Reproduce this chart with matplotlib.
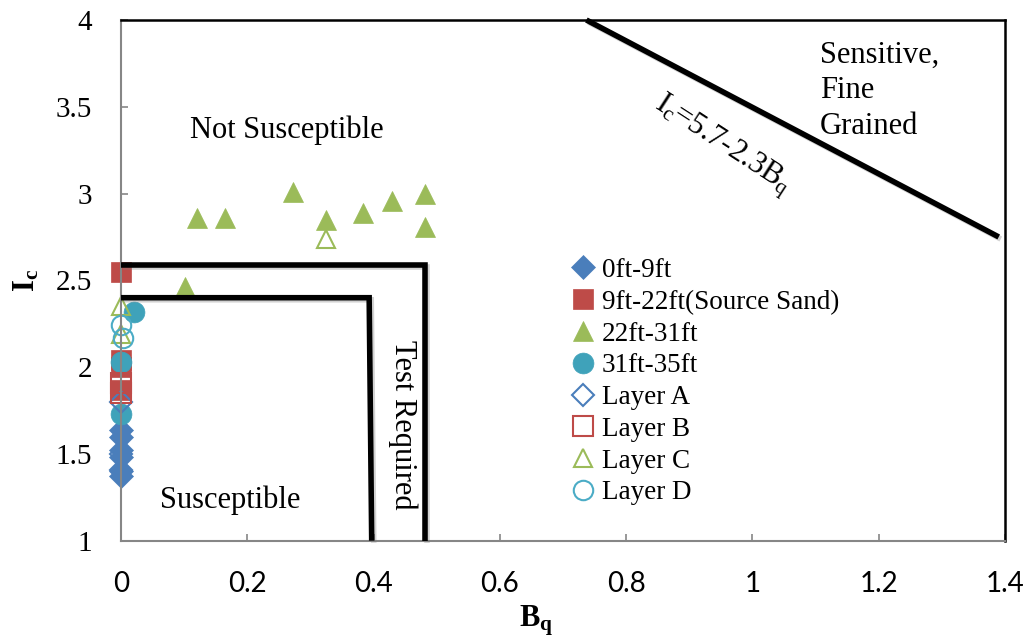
import matplotlib
matplotlib.use("Agg")
import matplotlib.pyplot as plt
import matplotlib.patheffects as pe

# ---- data ----
d0_9_x = [0, 0, 0, 0, 0, 0]
d0_9_y = [1.64, 1.60, 1.52, 1.48, 1.40, 1.37]

d9_22_x = [0, 0, 0, 0]
d9_22_y = [2.55, 2.04, 2.00, 1.87]

d22_31_x = [0.101, 0.121, 0.165, 0.273, 0.324, 0.384, 0.429, 0.482, 0.482]
d22_31_y = [2.46, 2.86, 2.86, 3.01, 2.85, 2.89, 2.96, 3.00, 2.81]

d31_35_x = [0.02, 0, 0]
d31_35_y = [2.32, 2.03, 1.73]

layerA_x = [0, 0, 0]
layerA_y = [1.80, 1.50, 1.41]

layerB_x = [0, 0]
layerB_y = [1.91, 1.85]

layerC_x = [0, 0, 0.324]
layerC_y = [2.35, 2.19, 2.74]

layerD_x = [0, 0.003]
layerD_y = [2.24, 2.17]

labels = ["0ft-9ft", "9ft-22ft(Source Sand)", "22ft-31ft", "31ft-35ft",
          "Layer A", "Layer B", "Layer C", "Layer D"]

xticks = [0, 0.2, 0.4, 0.6, 0.8, 1.0, 1.2, 1.4]
xticklabels = ["0", "0.2", "0.4", "0.6", "0.8", "1", "1.2", "1.4"]
yticks = [1, 1.5, 2, 2.5, 3, 3.5, 4]
yticklabels = ["1", "1.5", "2", "2.5", "3", "3.5", "4"]

# boundary lines of the classification chart
outer_x = [0, 0.482, 0.482]
outer_y = [2.59, 2.59, 1.0]
inner_x = [0, 0.393, 0.397]
inner_y = [2.40, 2.40, 1.0]
diag_x = [0.737, 1.39]
diag_y = [4.0, 2.75]

BLUE = "#4A7EBB"
RED = "#BE4B48"
GREEN = "#9BBB59"
TEAL = "#3FA2BA"
TEAL_L = "#4BACC6"

SERIF = "Liberation Serif"
SANS = "Lato"

plt.rcParams["mathtext.fontset"] = "custom"
plt.rcParams["mathtext.rm"] = SERIF
plt.rcParams["mathtext.it"] = SERIF + ":italic"
plt.rcParams["mathtext.bf"] = SERIF + ":bold"

fig = plt.figure(figsize=(10.29, 6.37), dpi=100)
ax = fig.add_axes([0.1176, 0.1512, 0.8591, 0.8174])

mk = dict(ls="none", clip_on=False)
ax.plot(d0_9_x, d0_9_y, marker="D", ms=12, color=BLUE,
        mec=BLUE, mew=0.5, label=labels[0], **mk)
ax.plot(d9_22_x, d9_22_y, marker="s", ms=14.5, color=RED,
        mec=RED, mew=0.5, label=labels[1], **mk)
ax.plot(d22_31_x, d22_31_y, marker="^", ms=14, color=GREEN,
        mec=GREEN, mew=0.5, label=labels[2], **mk)
ax.plot(d31_35_x, d31_35_y, marker="o", ms=15, color=TEAL,
        mec=TEAL, mew=0.5, label=labels[3], **mk)
ax.plot(layerA_x, layerA_y, marker="D", ms=11.5, mfc="none",
        mec=BLUE, mew=1.5, label=labels[4], **mk)
ax.plot(layerB_x, layerB_y, marker="s", ms=14, mfc="none",
        mec=RED, mew=1.5, label=labels[5], **mk)
ax.plot(layerC_x, layerC_y, marker="^", ms=13.5, mfc="none",
        mec=GREEN, mew=1.5, label=labels[6], **mk)
ax.plot(layerD_x, layerD_y, marker="o", ms=14, mfc="none",
        mec=TEAL_L, mew=1.5, label=labels[7], **mk)

shadow = [pe.SimpleLineShadow(offset=(1.5, -1.5), shadow_color="gray", alpha=0.35),
          pe.Normal()]
for xs, ys in [(outer_x, outer_y), (inner_x, inner_y), (diag_x, diag_y)]:
    ax.plot(xs, ys, color="black", lw=4, solid_capstyle="butt",
            solid_joinstyle="miter", zorder=5, path_effects=shadow, clip_on=False)

ax.set_xlim(0, 1.4)
ax.set_ylim(1, 4)
ax.set_xticks(xticks)
ax.set_xticklabels(xticklabels, fontfamily=SANS, fontsize=20)
ax.set_yticks(yticks)
ax.set_yticklabels(yticklabels, fontfamily=SERIF, fontsize=21)
ax.tick_params(axis="x", direction="in", length=5, width=1.2, color="#868686", pad=22)
ax.tick_params(axis="y", direction="in", length=5, width=1.2, color="#868686", pad=21)

for side in ("left", "bottom"):
    ax.spines[side].set_color("#868686")
    ax.spines[side].set_linewidth(1.5)
for side in ("top", "right"):
    ax.spines[side].set_color("black")
    ax.spines[side].set_linewidth(1.8)

ax.set_xlabel(r"B$_\mathbf{q}$", fontfamily=SERIF, fontweight="bold", fontsize=22)
ax.xaxis.set_label_coords(0.47, -0.12)
ax.set_ylabel(r"I$_\mathbf{c}$", fontfamily=SERIF, fontweight="bold", fontsize=22)
ax.yaxis.set_label_coords(-0.09, 0.5)

txt = dict(fontfamily=SERIF, fontsize=22, color="black")
ax.text(0.263, 3.364, "Not Susceptible", ha="center", va="center", **txt)
ax.text(0.173, 1.235, "Susceptible", ha="center", va="center", **txt)
ax.text(0.446, 1.667, "Test Required", ha="center", va="center", rotation=-90, **txt)
ax.text(1.107, 3.88, "Sensitive,\nFine\nGrained", ha="left", va="top",
        linespacing=1.3, **txt)
ax.text(0.953, 3.28, r"I$_\mathrm{c}$=5.7-2.3B$_\mathrm{q}$", ha="center", va="center",
        rotation=-33, rotation_mode="anchor", **txt)

leg = ax.legend(loc="upper left", bbox_to_anchor=(0.509, 0.543),
                frameon=False, prop={"family": SERIF, "size": 19.5},
                handlelength=0.9, handletextpad=0.25, labelspacing=0.25,
                borderaxespad=0, borderpad=0)

fig.savefig("out.png", dpi=100)
